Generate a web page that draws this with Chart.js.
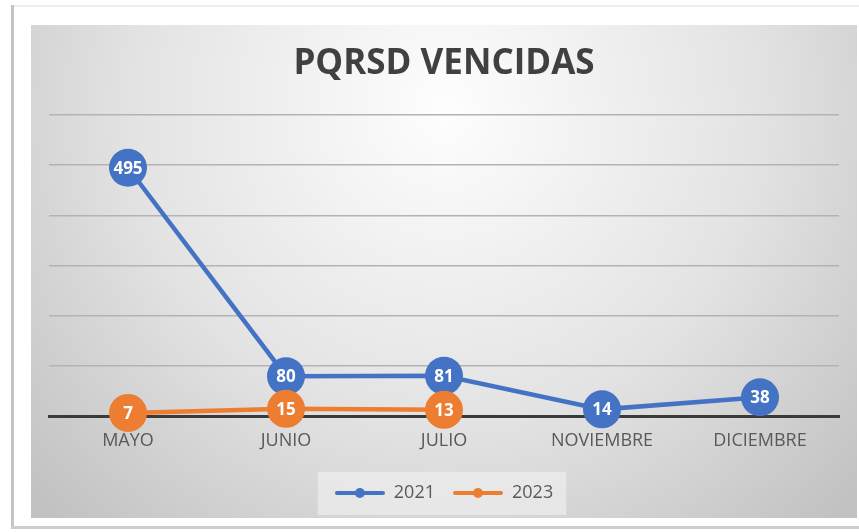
<!DOCTYPE html>
<html>
<head>
<meta charset="utf-8">
<script src="https://cdn.jsdelivr.net/npm/chart.js@4.4.1/dist/chart.umd.min.js"></script>
<style>
  html, body { margin: 0; padding: 0; background: #ffffff; }
  #wrap { width: 859px; height: 532px; position: relative; }
</style>
</head>
<body>
<div id="wrap"><canvas id="chart" width="859" height="532"></canvas></div>
<script>
// data
const months = ['MAYO', 'JUNIO', 'JULIO', 'NOVIEMBRE', 'DICIEMBRE'];
const values2021 = [495, 80, 81, 14, 38];
const values2023 = [7, 15, 13, null, null];
const seriesNames = ['2021', '2023'];
const yTicks = [0, 100, 200, 300, 400, 500, 600];

const BLUE = '#4472C4';
const ORANGE = '#ED7D31';

// little "line with dot" marker for the legend, like excel draws it
const legendMarker = (color) => {
    const c = document.createElement('canvas');
    c.width = 50;
    c.height = 12;
    const g = c.getContext('2d');
    g.strokeStyle = color;
    g.lineWidth = 4;
    g.lineCap = 'round';
    g.beginPath();
    g.moveTo(2, 6);
    g.lineTo(48, 6);
    g.stroke();
    g.fillStyle = color;
    g.beginPath();
    g.arc(25, 6, 5, 0, Math.PI * 2);
    g.fill();
    return c;
};

// background: white card, gray gradient panel, legend box
const backgroundPlugin = {
    id: 'background',
    beforeDraw(chart) {
        const ctx = chart.ctx;
        ctx.save();
        ctx.fillStyle = '#ffffff';
        ctx.fillRect(0, 0, chart.width, chart.height);

        // card edges
        ctx.fillStyle = '#ededed';
        ctx.fillRect(12, 5, chart.width - 12, 2);
        ctx.fillStyle = '#c4c4c4';
        ctx.fillRect(11, 5, 3, 523);
        ctx.fillStyle = '#cdcdcd';
        ctx.fillRect(11, 526, chart.width - 11, 3);

        // panel
        const grad = ctx.createRadialGradient(445, 110, 10, 445, 110, 560);
        grad.addColorStop(0, '#fdfdfd');
        grad.addColorStop(0.55, '#e3e3e3');
        grad.addColorStop(1, '#c2c2c2');
        ctx.fillStyle = grad;
        ctx.fillRect(31, 25, 826, 493);

        // legend box
        const boxes = chart.legend.legendHitBoxes;
        if (boxes && boxes.length) {
            const first = boxes[0];
            const last = boxes[boxes.length - 1];
            ctx.fillStyle = 'rgba(236,236,236,0.75)';
            ctx.fillRect(first.left - 17, first.top + first.height / 2 - 21,
                last.left + last.width - first.left + 30, 43);
        }
        ctx.restore();
    }
};

// value inside each dot
const valueLabelPlugin = {
    id: 'valueLabels',
    afterDatasetsDraw(chart) {
        const ctx = chart.ctx;
        ctx.save();
        ctx.font = 'bold 17px "Open Sans", sans-serif';
        ctx.fillStyle = '#ffffff';
        ctx.textAlign = 'center';
        ctx.textBaseline = 'middle';
        // orange is on top, so draw blue labels first
        [0, 1].forEach(i => {
            const meta = chart.getDatasetMeta(i);
            meta.data.forEach((pt, j) => {
                const v = chart.data.datasets[i].data[j];
                if (v === null || v === undefined) return;
                ctx.fillText(String(v), pt.x, pt.y + 1);
            });
        });
        ctx.restore();
    }
};

const ctx = document.getElementById('chart').getContext('2d');

new Chart(ctx, {
    type: 'line',
    data: {
        labels: months,
        datasets: [
            {
                label: seriesNames[0],
                data: values2021,
                borderColor: BLUE,
                backgroundColor: BLUE,
                borderWidth: 4.5,
                pointRadius: 19,
                pointBorderWidth: 0,
                pointHoverRadius: 19,
                clip: false,
                order: 1,
            },
            {
                label: seriesNames[1],
                data: values2023,
                borderColor: ORANGE,
                backgroundColor: ORANGE,
                borderWidth: 4.5,
                pointRadius: 19,
                pointBorderWidth: 0,
                pointHoverRadius: 19,
                clip: false,
                order: 0,
            },
        ],
    },
    options: {
        responsive: false,
        animation: false,
        events: [],
        layout: {
            padding: { left: 49, right: 20, top: 0, bottom: 20 }
        },
        scales: {
            x: {
                offset: true,
                grid: { display: false, drawTicks: false },
                border: { display: true, color: '#3a3a3a', width: 3 },
                ticks: {
                    padding: 14,
                    color: '#595959',
                    font: { family: '"Open Sans", sans-serif', size: 18 },
                },
            },
            y: {
                min: yTicks[0],
                max: yTicks[yTicks.length - 1],
                afterBuildTicks(scale) {
                    scale.ticks = yTicks.map(v => ({ value: v }));
                },
                ticks: { display: false },
                border: { display: false },
                grid: { color: '#b3b3b3', lineWidth: 1.5, drawTicks: false },
            },
        },
        plugins: {
            title: {
                display: true,
                text: 'PQRSD VENCIDAS',
                color: '#404040',
                font: { family: '"Open Sans", sans-serif', size: 35, weight: 'bold' },
                padding: { top: 43, bottom: 30 },
            },
            legend: {
                position: 'bottom',
                labels: {
                    usePointStyle: true,
                    pointStyleWidth: 50,
                    padding: 18,
                    color: '#595959',
                    font: { family: '"Open Sans", sans-serif', size: 18 },
                    sort: (a, b) => a.datasetIndex - b.datasetIndex,
                    generateLabels(chart) {
                        return chart.data.datasets.map((ds, i) => ({
                            text: ds.label,
                            fillStyle: ds.borderColor,
                            strokeStyle: ds.borderColor,
                            fontColor: '#595959',
                            pointStyle: legendMarker(ds.borderColor),
                            lineWidth: 0,
                            hidden: false,
                            datasetIndex: i,
                        }));
                    },
                },
            },
            tooltip: { enabled: false },
        },
    },
    plugins: [backgroundPlugin, valueLabelPlugin],
});
</script>
</body>
</html>
